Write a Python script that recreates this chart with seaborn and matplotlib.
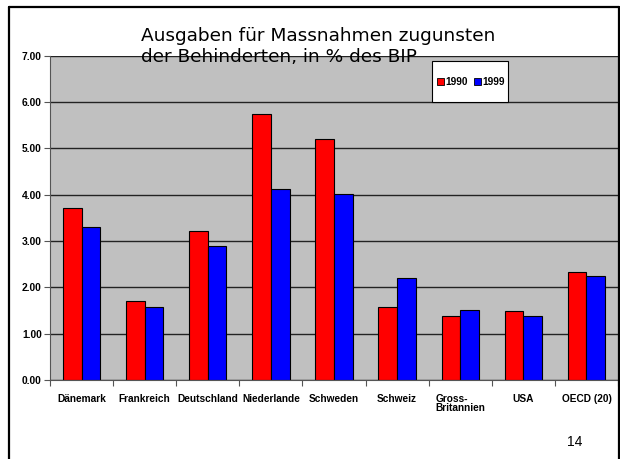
import pandas as pd
import seaborn as sns
import matplotlib.pyplot as plt
from matplotlib.patches import Rectangle
from matplotlib.lines import Line2D

# Disability-related spending in % of GDP
laender = ['Dänemark', 'Frankreich', 'Deutschland', 'Niederlande', 'Schweden',
           'Schweiz', 'Gross-\nBritannien', 'USA', 'OECD (20)']
werte_1990 = [3.70, 1.70, 3.22, 5.73, 5.20, 1.58, 1.38, 1.48, 2.32]
werte_1999 = [3.30, 1.58, 2.90, 4.13, 4.02, 2.20, 1.52, 1.37, 2.24]
jahre = ['1990', '1999']
farben = ['#FF0000', '#0000FF']
y_ticks = [0, 1, 2, 3, 4, 5, 6, 7]

df = pd.DataFrame({
    'Land': laender * 2,
    'Wert': werte_1990 + werte_1999,
    'Jahr': [jahre[0]] * len(laender) + [jahre[1]] * len(laender),
})

sns.set_style('white')
plt.rcParams['font.family'] = ['Liberation Sans', 'DejaVu Sans']
plt.rcParams['text.color'] = 'black'
plt.rcParams['xtick.color'] = 'black'
plt.rcParams['ytick.color'] = 'black'

W, H = 620, 459
fig = plt.figure(figsize=(W / 100, H / 100), dpi=100)
ax = fig.add_axes([50 / W, 1 - 380 / H, 568 / W, (380 - 55.5) / H])
ax.set_facecolor('#C0C0C0')

sns.barplot(data=df, x='Land', y='Wert', hue='Jahr', palette=farben,
            width=0.59, edgecolor='black', linewidth=0.8, saturation=1,
            ax=ax, legend=False)

ax.set_ylim(0, 7)
ax.set_xlim(-0.5, len(laender) - 0.5)
ax.set_yticks(y_ticks)
ax.set_yticklabels([f'{v:.2f}' for v in y_ticks], fontsize=7.4, fontweight='bold')
ax.yaxis.grid(True, color='#222222', linewidth=1.0)
ax.set_axisbelow(True)
ax.tick_params(axis='y', length=4, width=0.8, color='#555555', labelcolor='black',
               pad=2, left=True)

# category labels centred, tick marks on category boundaries
ax.set_xticks(range(len(laender)))
ax.set_xticklabels(laender, fontsize=7.3, fontweight='bold', linespacing=0.9,
                   va='top', multialignment='left')
ax.tick_params(axis='x', which='major', length=0, pad=10, labelcolor='black')
ax.set_xticks([i - 0.5 for i in range(len(laender) + 1)], minor=True)
ax.tick_params(axis='x', which='minor', length=4, width=0.8, color='#555555',
               bottom=True)
ax.set_xlabel('')
ax.set_ylabel('')

for s in ['top', 'right']:
    ax.spines[s].set_visible(False)
ax.spines['left'].set_color('#555555')
ax.spines['bottom'].set_color('#555555')

# title overlapping the plot area like on the slide
fig.text(141 / W, 1 - 27 / H, 'Ausgaben für Massnahmen zugunsten\nder Behinderten, in % des BIP',
         fontsize=13.3, family='DejaVu Sans', color='black', ha='left', va='top',
         linespacing=1.22)

# legend box
fig.patches.append(Rectangle((432 / W, 1 - 102 / H), 76 / W, 41 / H,
                             transform=fig.transFigure, facecolor='white',
                             edgecolor='black', linewidth=0.8, zorder=5))
handles = [Rectangle((0, 0), 1, 1, facecolor=c, edgecolor='black', linewidth=0.6)
           for c in farben]
fig.legend(handles, jahre, loc='center', bbox_to_anchor=(471 / W, 1 - 82 / H),
           ncol=2, frameon=False, prop={'size': 7.3, 'weight': 'bold'},
           handlelength=0.7, handleheight=0.7, handletextpad=0.15,
           columnspacing=0.6, borderpad=0).set_zorder(6)

# slide frame and page number
lw = 1.6
fig.add_artist(Line2D([9 / W, 9 / W], [0, 1 - 7 / H], color='black', lw=lw))
fig.add_artist(Line2D([9 / W, 618.5 / W], [1 - 7 / H, 1 - 7 / H], color='black', lw=lw))
fig.add_artist(Line2D([618.5 / W, 618.5 / W], [0, 1 - 7 / H], color='black', lw=lw))
fig.text(575 / W, 1 - 442 / H, '14', fontsize=10, ha='center', va='center')

fig.savefig('out.png', dpi=100)
